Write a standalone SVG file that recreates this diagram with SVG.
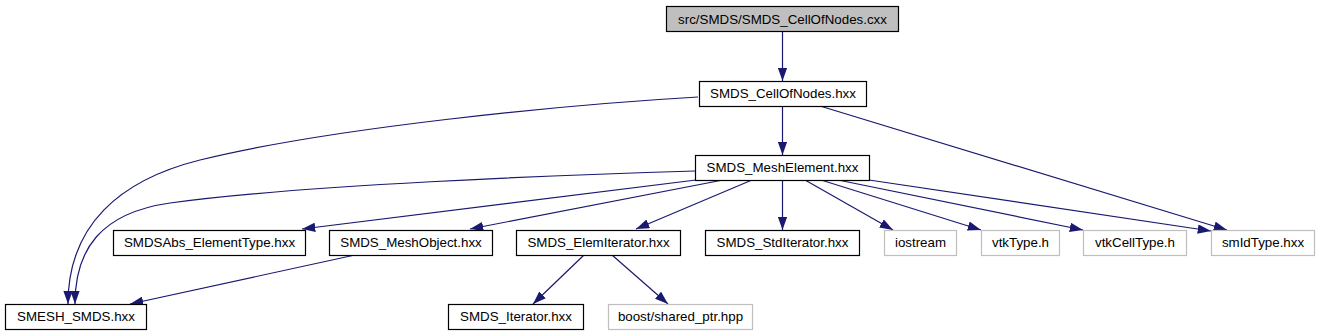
<svg xmlns="http://www.w3.org/2000/svg" width="1320" height="336" viewBox="0 0 1320 336">
<style>
.box{fill:#ffffff;stroke:#000000;stroke-width:1.2}
.grey{fill:#ffffff;stroke:#bfbfbf;stroke-width:1.2}
.root{fill:#bfbfbf;stroke:#000000;stroke-width:1.2}
text{font-family:"Liberation Sans",Arial,Helvetica,sans-serif;font-size:13.33px;fill:#000000;text-anchor:middle}
.edge{fill:none;stroke:#191970;stroke-width:1.2;marker-end:url(#arr)}
</style>
<defs>
<marker id="arr" markerUnits="userSpaceOnUse" markerWidth="13.3" markerHeight="9.4" viewBox="0 0 13.3 9.4" refX="13.3" refY="4.7" orient="auto">
<path d="M0,0 L13.3,4.7 L0,9.4 z" fill="#191970"/>
</marker>
</defs>
<rect width="1320" height="336" fill="#ffffff"/>
<g id="edges">
<path class="edge" d="M782.5,31 L782.5,81"/>
<path class="edge" d="M782.5,106 L782.5,155"/>
<path class="edge" d="M698,97 C560,105 330,128 200,160 C120,180 68,225 68,304"/>
<path class="edge" d="M820,106 L1227,230"/>
<path class="edge" d="M695,171 C560,175 300,185 170,203 C100,213 75,250 75,304"/>
<path class="edge" d="M696,180 L302,229"/>
<path class="edge" d="M723,180 L470,229"/>
<path class="edge" d="M752,180 L636,229"/>
<path class="edge" d="M782.5,180 L782.5,230"/>
<path class="edge" d="M805,180 L893,230"/>
<path class="edge" d="M821,180 L981,230"/>
<path class="edge" d="M838,180 L1083,230"/>
<path class="edge" d="M869,180 L1211,231"/>
<path class="edge" d="M355,255 L130,304"/>
<path class="edge" d="M584,255 L533,304"/>
<path class="edge" d="M612,255 L668,304"/>
</g>
<g id="n0"><rect class="root" x="666.5" y="6.5" width="232" height="25"/><text x="782.5" y="23.5">src/SMDS/SMDS_CellOfNodes.cxx</text></g>
<g id="n1"><rect class="box" x="699.5" y="81.5" width="167" height="25"/><text x="783" y="98">SMDS_CellOfNodes.hxx</text></g>
<g id="n2"><rect class="box" x="695.5" y="155.5" width="174" height="25"/><text x="782.5" y="172">SMDS_MeshElement.hxx</text></g>
<g id="n3"><rect class="box" x="5.5" y="304.5" width="141" height="25"/><text x="76" y="321">SMESH_SMDS.hxx</text></g>
<g id="n4"><rect class="box" x="113.5" y="230.5" width="192" height="25"/><text x="209.5" y="247">SMDSAbs_ElementType.hxx</text></g>
<g id="n5"><rect class="box" x="329.5" y="230.5" width="163" height="25"/><text x="411" y="247">SMDS_MeshObject.hxx</text></g>
<g id="n6"><rect class="box" x="516.5" y="230.5" width="164" height="25"/><text x="598.5" y="247">SMDS_ElemIterator.hxx</text></g>
<g id="n7"><rect class="box" x="448.5" y="304.5" width="135" height="25"/><text x="516" y="321">SMDS_Iterator.hxx</text></g>
<g id="n8"><rect class="grey" x="608.5" y="304.5" width="144" height="25"/><text x="680.5" y="321">boost/shared_ptr.hpp</text></g>
<g id="n9"><rect class="box" x="705.5" y="230.5" width="154" height="25"/><text x="782.5" y="247">SMDS_StdIterator.hxx</text></g>
<g id="n10"><rect class="grey" x="884.5" y="230.5" width="72" height="25"/><text x="920.5" y="247">iostream</text></g>
<g id="n11"><rect class="grey" x="981.5" y="230.5" width="78" height="25"/><text x="1020.5" y="247">vtkType.h</text></g>
<g id="n12"><rect class="grey" x="1083.5" y="230.5" width="103" height="25"/><text x="1135" y="247">vtkCellType.h</text></g>
<g id="n13"><rect class="grey" x="1211.5" y="230.5" width="103" height="25"/><text x="1263" y="247">smIdType.hxx</text></g>
</svg>
